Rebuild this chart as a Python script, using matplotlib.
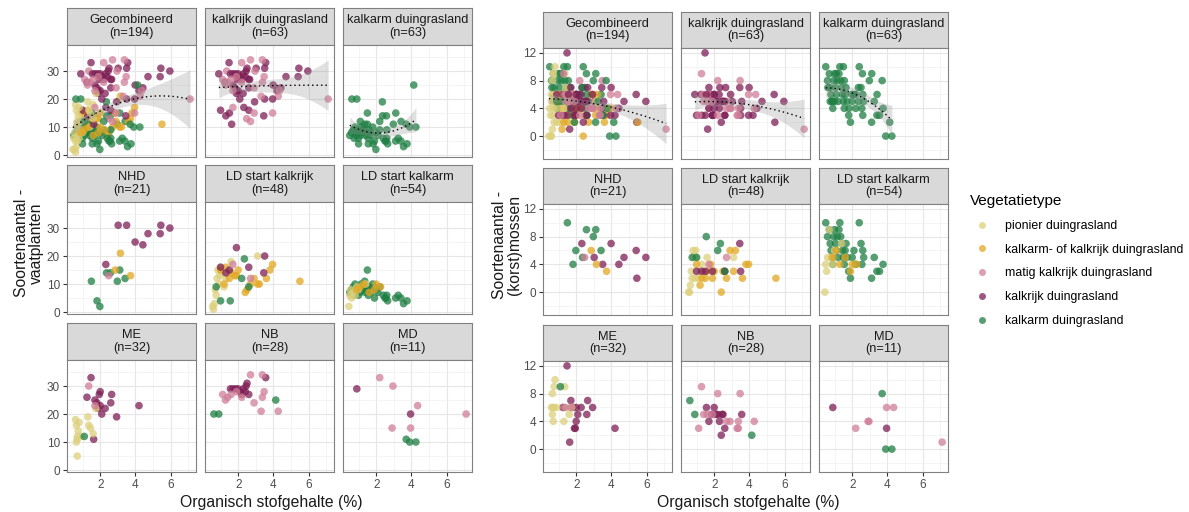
import numpy as np
import matplotlib.pyplot as plt
from matplotlib.lines import Line2D

plt.rcParams['font.family'] = ['Liberation Sans', 'DejaVu Sans']

# vegetatietypes: P pionier, G kalkarm- of kalkrijk, M matig kalkrijk, K kalkrijk, A kalkarm
veg_codes = ['P', 'G', 'M', 'K', 'A']
veg_names = ['pionier duingrasland', 'kalkarm- of kalkrijk duingrasland',
             'matig kalkrijk duingrasland', 'kalkrijk duingrasland', 'kalkarm duingrasland']
veg_colors = ['#DDD07C', '#E2A823', '#D07E98', '#7E1F55', '#1F7F44']

# NHD
nhd_x = [1.50, 1.82, 1.98, 2.36, 2.58, 2.97, 3.11, 3.41, 2.32, 3.02, 3.50, 3.98, 4.42,
         4.71, 5.40, 5.44, 5.95, 2.85, 3.15, 3.72, 2.48]
nhd_vaat = [11, 4, 2, 14, 14, 11, 15, 12, 17, 31, 31, 25, 24, 28, 28, 31, 30, 15, 21, 13, 13]
nhd_mos = [10, 4, 6, 5, 9, 8, 9, 6, 7, 5, 4, 7, 4, 5, 6, 2, 5, 6, 4, 3, 5]
nhd_type = 'AAAAAAAAKKKKKKKKKGGGM'

# LD start kalkrijk
ldkr_x = [0.55, 0.6, 0.65, 0.7, 0.75, 0.8, 0.85, 0.9, 0.95, 1.0, 1.1, 1.2, 1.3, 1.6, 3.1,
          1.0, 1.2, 1.3, 1.5, 1.6, 1.8, 1.9, 2.0, 2.4, 2.5, 2.7, 2.9, 3.1, 3.2, 3.6, 3.8, 3.95, 5.5,
          1.0, 1.3, 1.5, 1.9, 2.6, 3.45, 3.5,
          0.75, 1.0, 1.55, 2.2, 2.35, 2.6,
          1.7, 2.7]
ldkr_vaat = [2, 1, 3, 8, 6, 12, 15, 10, 13, 16, 14, 9, 12, 18, 20,
             15, 10, 16, 12, 14, 13, 13, 15, 7, 8, 10, 12, 10, 10, 12, 15, 17, 11,
             16, 14, 15, 23, 16, 14, 20,
             9, 4, 4, 12, 19, 9,
             17, 12]
ldkr_mos = [0, 0, 1, 3, 2, 6, 5, 2, 6, 5, 2, 3, 4, 5, 5,
            4, 1, 2, 2, 3, 4, 2, 3, 0, 3, 2, 6, 3, 6, 2, 4, 4, 2,
            3, 3, 3, 3, 3, 7, 3,
            5, 5, 8, 6, 7, 3,
            4, 5]
ldkr_type = 'P' * 15 + 'G' * 18 + 'K' * 7 + 'A' * 6 + 'M' * 2

# LD start kalkarm
ldka_x = [0.5, 0.6, 0.7, 0.75, 0.8, 0.85, 0.9, 0.95, 1.0, 1.05, 1.1, 1.15, 1.2, 1.25, 1.3,
          1.35, 1.4, 1.45, 1.5, 1.55, 1.6, 1.65, 1.7, 1.8, 1.9, 2.0, 2.1, 2.2, 2.4, 2.5,
          2.6, 2.65, 2.55, 3.1, 3.25, 3.4, 3.55, 3.75,
          0.45, 0.5, 0.55, 0.6, 0.7, 0.8, 0.9, 1.0, 1.4,
          0.9, 1.1, 1.3, 1.6, 1.9, 2.0, 2.25]
ldka_vaat = [7, 8, 9, 6, 10, 7, 8, 9, 6, 8, 7, 10, 9, 8, 9, 11, 7, 8, 15, 6, 9, 8, 7, 10,
             5, 8, 7, 9, 6, 5, 6, 4, 5, 5, 6, 5, 3, 4,
             2, 6, 8, 5, 7, 6, 9, 8, 10,
             8, 9, 10, 7, 8, 10, 9]
ldka_mos = [10, 8, 9, 7, 6, 5, 4, 8, 9, 7, 6, 8, 5, 9, 10, 8, 7, 6, 5, 4, 6, 7, 5, 3,
            2, 5, 6, 4, 10, 7, 6, 5, 4, 2, 5, 3, 3, 4,
            0, 4, 3, 5, 9, 5, 4, 6, 7,
            5, 6, 4, 5, 3, 4, 4]
ldka_type = 'A' * 38 + 'P' * 9 + 'G' * 7

# ME
me_x = [1.48, 1.25, 2.0, 1.95, 2.65, 2.6, 1.81, 2.0, 2.28, 2.09, 2.93, 4.2, 1.63, 1.7, 1.9,
        0.6, 0.65, 0.7, 0.75, 0.7, 0.65, 0.7, 0.8, 1.3, 1.35, 1.45, 1.6, 1.75, 0.9,
        1.1, 1.35, 1.7]
me_vaat = [33, 26, 28, 27, 27, 24, 24, 23, 22, 20, 19, 23, 11, 25, 22,
           18, 16, 12, 14, 11, 10, 5, 17, 19, 16, 15, 13, 22, 12,
           12, 30, 23]
me_mos = [12, 6, 6, 3, 7, 5, 6, 4, 6, 5, 6, 3, 1, 7, 3,
          6, 8, 6, 9, 6, 5, 4, 10, 4, 9, 6, 5, 6, 6,
          9, 6, 6]
me_type = 'K' * 15 + 'P' * 14 + 'A' + 'MM'

# NB
nb_x = [0.62, 0.9, 4.13,
        1.56, 1.7, 1.85, 2.0, 2.1, 2.2, 2.3, 2.4, 2.5, 2.45, 3.56, 2.6,
        1.12, 1.28, 1.4, 1.6, 2.7, 3.37, 3.47, 3.37, 2.9, 3.3, 4.27, 2.2, 1.9]
nb_vaat = [20, 20, 25,
           29, 29, 29, 29, 28, 27, 29, 28, 31, 30, 33, 27,
           27, 25, 26, 27, 34, 34, 28, 26, 24, 21, 21, 26, 28]
nb_mos = [7, 5, 2,
          6, 4, 5, 6, 5, 5, 4, 2, 5, 5, 5, 3,
          3, 9, 5, 5, 4, 3, 8, 4, 4, 3, 4, 8, 5]
nb_type = 'AAA' + 'K' * 12 + 'M' * 13

# MD
md_x = [0.9, 2.2, 2.95, 4.35, 3.95, 2.9, 3.95, 3.7, 3.9, 4.25, 7.1]
md_vaat = [29, 33, 30, 23, 20, 15, 15, 11, 10, 10, 20]
md_mos = [6, 3, 4, 6, 3, 4, 6, 8, 0, 0, 1]
md_type = 'KMMMKMMAAAM'

areas = ['NHD', 'LD start kalkrijk', 'LD start kalkarm', 'ME', 'NB', 'MD']
area_x = [nhd_x, ldkr_x, ldka_x, me_x, nb_x, md_x]
area_vaat = [nhd_vaat, ldkr_vaat, ldka_vaat, me_vaat, nb_vaat, md_vaat]
area_mos = [nhd_mos, ldkr_mos, ldka_mos, me_mos, nb_mos, md_mos]
area_type = [nhd_type, ldkr_type, ldka_type, me_type, nb_type, md_type]

facet_titles = ['Gecombineerd', 'kalkrijk duingrasland', 'kalkarm duingrasland'] + areas
facet_n = [194, 63, 63, 21, 48, 54, 32, 28, 11]

all_x = np.concatenate([np.array(v, float) for v in area_x])
all_vaat = np.concatenate([np.array(v, float) for v in area_vaat])
all_mos = np.concatenate([np.array(v, float) for v in area_mos])
all_type = np.array(list(''.join(area_type)))
all_area = np.concatenate([[i] * len(v) for i, v in enumerate(area_x)])


def facet_mask(k):
    if k == 0:
        return np.ones(len(all_x), bool)
    if k == 1:
        return np.isin(all_type, ['K', 'M'])
    if k == 2:
        return all_type == 'A'
    return all_area == k - 3


def quad_fit(x, y, n=100):
    # y ~ x + x^2 with 95% band
    X = np.column_stack([np.ones_like(x), x, x ** 2])
    beta = np.linalg.lstsq(X, y, rcond=None)[0]
    res = y - X @ beta
    s2 = res @ res / (len(x) - 3)
    cov = s2 * np.linalg.inv(X.T @ X)
    g = np.linspace(x.min(), x.max(), n)
    G = np.column_stack([np.ones_like(g), g, g ** 2])
    fit = G @ beta
    se = np.sqrt(np.einsum('ij,jk,ik->i', G, cov, G))
    return g, fit, fit - 1.98 * se, fit + 1.98 * se


W, H = 1189, 512
fig = plt.figure(figsize=(W / 100, H / 100), dpi=100)
colmap = dict(zip(veg_codes, veg_colors))
pt_colors = np.array([colmap[t] for t in all_type])

xr = all_x.max() - all_x.min()
xlim = (all_x.min() - 0.05 * xr, all_x.max() + 0.05 * xr)
edge = '#808080'


def add_block(yvals, cols, rows, strip_h, plot_h, ylim, yticks, yminor):
    for k in range(9):
        r, c = divmod(k, 3)
        x0, top = cols[c], rows[r]
        sax = fig.add_axes([x0 / W, 1 - (top + strip_h) / H, 129 / W, strip_h / H])
        sax.set_facecolor('#D9D9D9')
        sax.set_xticks([])
        sax.set_yticks([])
        for s in sax.spines.values():
            s.set_color(edge)
            s.set_linewidth(0.8)
        sax.text(0.5, 0.5, f'{facet_titles[k]}\n(n={facet_n[k]})', ha='center', va='center',
                 fontsize=9.2, color='#1A1A1A', linespacing=1.05)

        ax = fig.add_axes([x0 / W, 1 - (top + strip_h + plot_h) / H, 129 / W, plot_h / H])
        m = facet_mask(k)
        ax.scatter(all_x[m], yvals[m], s=30, c=pt_colors[m], alpha=0.75, linewidths=0, zorder=3)
        if k < 3:
            g, fit, lo, hi = quad_fit(all_x[m], yvals[m])
            ax.fill_between(g, lo, hi, color='#999999', alpha=0.3, lw=0, zorder=4)
            ax.plot(g, fit, color='black', ls=(0, (1, 2.2)), lw=1.0, zorder=5)
        ax.set_xlim(xlim)
        ax.set_ylim(ylim)
        ax.set_xticks([2, 4, 6])
        ax.set_xticks([1, 3, 5, 7], minor=True)
        ax.set_yticks(yticks)
        ax.set_yticks(yminor, minor=True)
        ax.grid(which='major', color='#E6E6E6', lw=0.8, zorder=0)
        ax.grid(which='minor', color='#F0F0F0', lw=0.5, zorder=0)
        ax.set_axisbelow(True)
        ax.tick_params(which='minor', length=0)
        ax.tick_params(which='major', length=3, color='#333333', labelcolor='#4D4D4D',
                       labelsize=8.5, pad=2)
        if r < 2:
            ax.tick_params(axis='x', length=0, labelbottom=False)
        if c > 0:
            ax.tick_params(axis='y', length=0, labelleft=False)
        for s in ax.spines.values():
            s.set_color(edge)
            s.set_linewidth(0.8)


add_block(all_vaat, [67, 205, 343], [8, 165, 323], 37, 112,
          (-0.7, 39.3), [0, 10, 20, 30], [5, 15, 25, 35])
add_block(all_mos, [543, 681, 819], [12, 168, 325], 36, 111,
          (-3.3, 12.7), [0, 4, 8, 12], [-2, 2, 6, 10])

fig.text(29 / W, 1 - 243 / H, 'Soortenaantal -\nvaatplanten', rotation=90, ha='center',
         va='center', fontsize=11.3, color='#1A1A1A', linespacing=1.0)
fig.text(507 / W, 1 - 245 / H, 'Soortenaantal -\n(korst)mossen', rotation=90, ha='center',
         va='center', fontsize=11.3, color='#1A1A1A', linespacing=1.0)
fig.text(271 / W, 1 - 502 / H, 'Organisch stofgehalte (%)', ha='center', va='center',
         fontsize=11.3, color='#1A1A1A')
fig.text(748 / W, 1 - 502 / H, 'Organisch stofgehalte (%)', ha='center', va='center',
         fontsize=11.3, color='#1A1A1A')

handles = [Line2D([], [], marker='o', ls='', color=c, alpha=0.75, markersize=5, markeredgewidth=0)
           for c in veg_colors]
fig.legend(handles, veg_names, title='Vegetatietype', loc='upper left',
           bbox_to_anchor=(959 / W, 1 - 183 / H), frameon=False, fontsize=8.9,
           title_fontsize=11, labelspacing=0.95, alignment='left')

fig.savefig('out.png', dpi=100)
